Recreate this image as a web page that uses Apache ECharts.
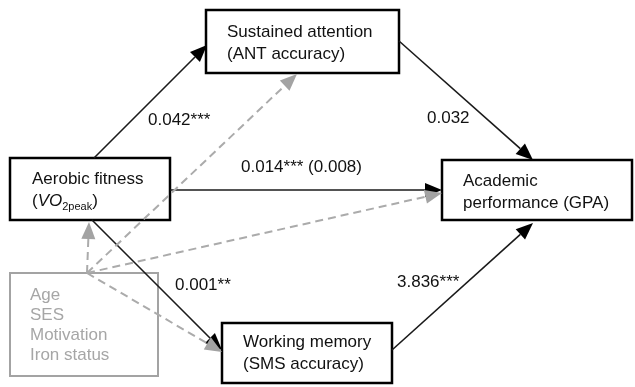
<!DOCTYPE html>
<html>
<head>
<meta charset="utf-8">
<script src="https://cdn.jsdelivr.net/npm/echarts@6/dist/echarts.min.js"></script>
<style>
  html, body { margin: 0; padding: 0; background: #fff; }
  #chart { width: 635px; height: 387px; }
</style>
</head>
<body>
<div id="chart"></div>
<script>
// Path model: aerobic fitness -> cognitive measures -> academic performance
const nodeLabels = [
  'Aerobic fitness\n{p|(}{i|VO}{s|2peak}{p|)}',
  'Sustained attention\n(ANT accuracy)',
  'Working memory\n(SMS accuracy)',
  'Academic\nperformance (GPA)'
];
const covariates = ['Age', 'SES', 'Motivation', 'Iron status'];
const pathFrom = [0, 1, 0, 0, 2];
const pathTo = [1, 3, 3, 2, 3];
const pathCoefficients = ['0.042***', '0.032', '0.014*** (0.008)', '0.001**', '3.836***'];
const controlTargets = [0, 1, 3, 2];

// Layout in chart units (axes span the full canvas, 1 unit = 1 px)
const boxLayout = [
  { x0: 10,  y0: 158, x1: 170, y1: 220, tx: 32,  ty: 179 },
  { x0: 206, y0: 10,  x1: 399, y1: 73,  tx: 227, ty: 32 },
  { x0: 222, y0: 323, x1: 392, y1: 383, tx: 243, ty: 342 },
  { x0: 442, y0: 160, x1: 632, y1: 220, tx: 463, ty: 181 }
];
const covBox = { x0: 10, y0: 273, x1: 158, y1: 376, tx: 30, ty: 295 };
const pathLayout = [
  { from: [94, 158],  to: [207, 45],  label: [148, 120] },
  { from: [399, 41],  to: [533, 160], label: [427, 118] },
  { from: [170, 190], to: [442, 190], label: [241, 167] },
  { from: [92, 220],  to: [222, 350], label: [175, 285] },
  { from: [392, 350], to: [533, 223], label: [397, 282] }
];
const controlOrigin = [87, 273];
const controlEnds = [[89, 222], [297, 74], [442, 193], [222, 352]];

const FONT = '"Liberation Sans", Arial, sans-serif';
const LINE_H = 22;

function arrowHead(p0, p1, len, half) {
  const dx = p1[0] - p0[0], dy = p1[1] - p0[1];
  const d = Math.hypot(dx, dy), ux = dx / d, uy = dy / d;
  const bx = p1[0] - ux * len, by = p1[1] - uy * len;
  return {
    base: [bx, by],
    points: [p1, [bx - uy * half, by + ux * half], [bx + uy * half, by - ux * half]]
  };
}

const chart = echarts.init(document.getElementById('chart'), null, { renderer: 'canvas' });

chart.setOption({
  animation: false,
  backgroundColor: '#ffffff',
  grid: { left: 0, right: 0, top: 0, bottom: 0 },
  xAxis: { type: 'value', min: 0, max: 635, show: false },
  yAxis: { type: 'value', min: 0, max: 387, inverse: true, show: false },
  series: [
    {
      // variable boxes
      type: 'custom',
      z: 2,
      data: nodeLabels.map((_, i) => [i]),
      renderItem: function (params, api) {
        const b = boxLayout[params.dataIndex];
        const a = api.coord([b.x0, b.y0]), c = api.coord([b.x1, b.y1]);
        const t = api.coord([b.tx, b.ty]);
        return {
          type: 'group',
          children: [
            {
              type: 'rect',
              shape: { x: a[0], y: a[1], width: c[0] - a[0], height: c[1] - a[1] },
              style: { fill: '#ffffff', stroke: '#000000', lineWidth: 2.5 }
            },
            {
              type: 'text',
              style: {
                text: nodeLabels[params.dataIndex],
                x: t[0], y: t[1] - LINE_H / 2,
                align: 'left', verticalAlign: 'top',
                fontFamily: FONT, fontSize: 17, lineHeight: LINE_H, fill: '#111111',
                rich: {
                  p: { fontFamily: FONT, fontSize: 17, lineHeight: LINE_H, fill: '#111111' },
                  i: { fontFamily: FONT, fontSize: 17, fontStyle: 'italic', lineHeight: LINE_H, fill: '#111111' },
                  s: { fontFamily: FONT, fontSize: 11, lineHeight: 11, verticalAlign: 'bottom', fill: '#111111' }
                }
              }
            }
          ]
        };
      }
    },
    {
      // covariates box
      type: 'custom',
      z: 2,
      data: [[0]],
      renderItem: function (params, api) {
        const a = api.coord([covBox.x0, covBox.y0]), c = api.coord([covBox.x1, covBox.y1]);
        const t = api.coord([covBox.tx, covBox.ty]);
        return {
          type: 'group',
          children: [
            {
              type: 'rect',
              shape: { x: a[0], y: a[1], width: c[0] - a[0], height: c[1] - a[1] },
              style: { fill: '#ffffff', stroke: '#a3a3a3', lineWidth: 2 }
            },
            {
              type: 'text',
              style: {
                text: covariates.join('\n'),
                x: t[0], y: t[1] - 10,
                align: 'left', verticalAlign: 'top',
                fontFamily: FONT, fontSize: 17, lineHeight: 20, fill: '#a6a6a6'
              }
            }
          ]
        };
      }
    },
    {
      // structural paths with coefficients
      type: 'custom',
      z: 3,
      data: pathCoefficients.map((_, i) => [pathFrom[i], pathTo[i]]),
      renderItem: function (params, api) {
        const L = pathLayout[params.dataIndex];
        const p0 = api.coord(L.from), p1 = api.coord(L.to);
        const ah = arrowHead(p0, p1, 17, 7);
        const lp = api.coord(L.label);
        return {
          type: 'group',
          children: [
            {
              type: 'line',
              shape: { x1: p0[0], y1: p0[1], x2: ah.base[0], y2: ah.base[1] },
              style: { stroke: '#1a1a1a', lineWidth: 1.6 }
            },
            {
              type: 'polygon',
              shape: { points: ah.points },
              style: { fill: '#000000' }
            },
            {
              type: 'text',
              style: {
                text: pathCoefficients[params.dataIndex],
                x: lp[0], y: lp[1],
                align: 'left', verticalAlign: 'middle',
                fontFamily: FONT, fontSize: 17, fill: '#111111'
              }
            }
          ]
        };
      }
    },
    {
      // covariate adjustment paths
      type: 'custom',
      z: 4,
      data: controlTargets.map((t) => [t]),
      renderItem: function (params, api) {
        const p0 = api.coord(controlOrigin), p1 = api.coord(controlEnds[params.dataIndex]);
        const ah = arrowHead(p0, p1, 17, 7);
        return {
          type: 'group',
          children: [
            {
              type: 'line',
              shape: { x1: p0[0], y1: p0[1], x2: ah.base[0], y2: ah.base[1] },
              style: { stroke: '#ababab', lineWidth: 2, lineDash: [8, 5] }
            },
            {
              type: 'polygon',
              shape: { points: ah.points },
              style: { fill: '#a3a3a3' }
            }
          ]
        };
      }
    }
  ]
});
</script>
</body>
</html>
